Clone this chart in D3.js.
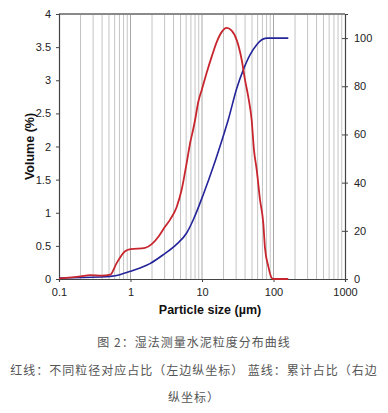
<!DOCTYPE html>
<html><head><meta charset="utf-8">
<script src="https://cdn.jsdelivr.net/npm/d3@7"></script>
<style>
body{margin:0;background:#fff;}
svg{display:block;}
</style></head>
<body>
<script>
const redSize = [0.1,0.2,0.27,0.4,0.52,0.64,0.84,1.0,1.6,2.0,2.5,3.0,3.6,4.4,5.2,6.1,6.9,7.5,8.0,8.9,9.9,11.6,13.7,16.1,18.9,22.1,26.0,30.5,35.9,39.9,44.4,49.5,53.3,58.2,64.7,72,76,84.6,94.4,100,161];
const redVol  = [0.01,0.04,0.06,0.05,0.065,0.24,0.42,0.45,0.47,0.53,0.65,0.78,0.90,1.08,1.35,1.75,2.08,2.25,2.40,2.68,2.85,3.11,3.36,3.58,3.73,3.79,3.75,3.61,3.31,3.01,2.75,2.40,1.95,1.65,1.20,0.84,0.47,0.19,0.015,0,0];
const blueSize = [0.1,0.37,0.52,0.71,1.0,1.36,1.87,2.88,4.43,6.1,7.55,10.4,14.4,19.9,23.3,30.5,37.8,46.9,58.2,68.4,80.3,161];
const blueCum  = [0.4,0.8,1.1,1.8,3.2,4.6,6.4,10.1,14.5,19.1,24.6,35.0,46.7,59.5,66.1,79,86.8,93,97.2,99.3,100,100];
const xTicks = [0.1,1,10,100,1000];
const yLeftTicks = [0,0.5,1,1.5,2,2.5,3,3.5,4];
const yRightTicks = [0,20,40,60,80,100];
const captionLines = ["图 2：湿法测量水泥粒度分布曲线","红线：不同粒径对应占比（左边纵坐标） 蓝线：累计占比（右边","纵坐标）"];

const W=388,H=413;
const L=59,R=345,T=14,B=279;
const svg=d3.select("body").append("svg").attr("width",W).attr("height",H);
const x=d3.scaleLog().domain([0.1,1000]).range([L,R]);
const yL=d3.scaleLinear().domain([0,4]).range([B,T]);
const yR=d3.scaleLinear().domain([0,110]).range([B,T]);

// vertical gridlines
const grid=[];
[0.1,1,10,100].forEach(d=>{for(let k=1;k<=9;k++){grid.push(d*k);}});
svg.append("g").selectAll("line").data(grid.filter(v=>v>0.1 && v<1000)).join("line")
 .attr("x1",d=>x(d)).attr("x2",d=>x(d)).attr("y1",T).attr("y2",B)
 .attr("stroke",d=>Math.abs(Math.log10(d)-Math.round(Math.log10(d)))<1e-6?"#a8a8a8":"#c4c4c4").attr("stroke-width",1);

// top border
svg.append("line").attr("x1",L).attr("x2",R).attr("y1",T).attr("y2",T).attr("stroke","#8a8a8a").attr("stroke-width",2);

const font="Liberation Sans, Arial, sans-serif";
// axes
const gx=svg.append("g").attr("transform",`translate(0,${B})`)
 .call(d3.axisBottom(x).tickValues(xTicks).tickFormat(d3.format("~g")).tickSizeOuter(0).tickSize(3).tickPadding(6));
const gl=svg.append("g").attr("transform",`translate(${L},0)`)
 .call(d3.axisLeft(yL).tickValues(yLeftTicks).tickFormat(d3.format("~g")).tickSizeOuter(0).tickSize(3).tickPadding(5));
const gr=svg.append("g").attr("transform",`translate(${R},0)`)
 .call(d3.axisRight(yR).tickValues(yRightTicks).tickSizeOuter(0).tickSize(3).tickPadding(6));
gr.selectAll(".tick line").attr("x1",-3);
[gx,gl,gr].forEach(g=>{
  g.select(".domain").attr("stroke","#444").attr("stroke-width",1.2);
  g.selectAll(".tick line").attr("stroke","#444");
  g.selectAll("text").attr("font-family",font).attr("font-size",11).attr("fill","#222");
});

// curves
const line=d3.line().curve(d3.curveMonotoneX);
svg.append("path")
 .attr("d",line(blueSize.map((s,i)=>[x(s),yR(blueCum[i])])))
 .attr("fill","none").attr("stroke","#24249a").attr("stroke-width",1.6);
svg.append("path")
 .attr("d",line(redSize.map((s,i)=>[x(s),yL(redVol[i])])))
 .attr("fill","none").attr("stroke","#c8262e").attr("stroke-width",1.8);

// axis titles
svg.append("text").attr("x",(L+R)/2+8).attr("y",314).attr("text-anchor","middle")
 .attr("font-family",font).attr("font-weight","bold").attr("font-size",12.5).attr("fill","#111").text("Particle size (µm)");
svg.append("text").attr("transform",`translate(34,${(T+B)/2}) rotate(-90)`).attr("text-anchor","middle")
 .attr("font-family",font).attr("font-weight","bold").attr("font-size",12.5).attr("fill","#111").text("Volume (%)");

// caption
const capY=[347,375,402];
captionLines.forEach((t,i)=>{
  svg.append("text").attr("x",W/2).attr("y",capY[i]).attr("text-anchor","middle")
   .attr("font-family","Noto Sans CJK SC, sans-serif").attr("font-size",12).attr("letter-spacing",1)
   .attr("fill","#555").text(t);
});
</script>
</body></html>
